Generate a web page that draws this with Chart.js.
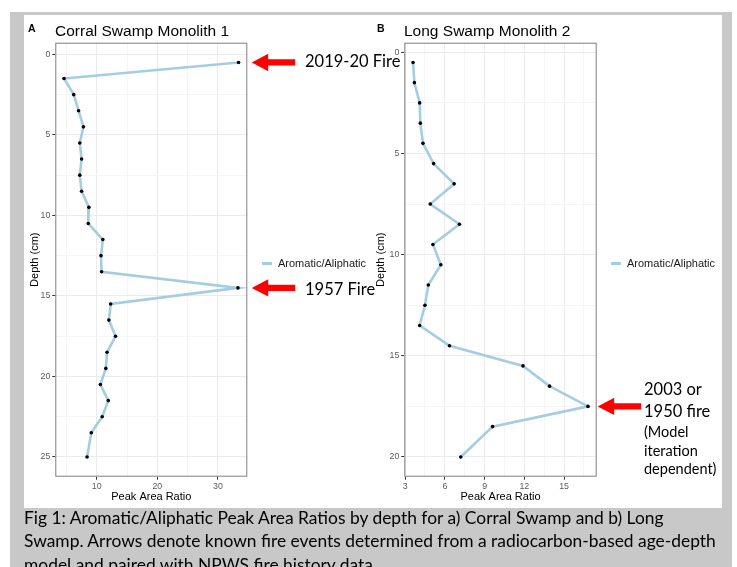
<!DOCTYPE html>
<html>
<head>
<meta charset="utf-8">
<script src="https://cdn.jsdelivr.net/npm/chart.js@4.4.0/dist/chart.umd.min.js"></script>
<style>
  body { margin: 0; background: #fff; }
  #page { position: relative; width: 737px; height: 567px; overflow: hidden; font-family: "Liberation Sans", Arial, sans-serif; }
  #frame { position: absolute; left: 10px; top: 12px; width: 722px; height: 560px; background: #c8c8c8; }
  #inner { position: absolute; left: 24px; top: 15px; width: 698px; height: 493px; background: #fff; }
  canvas { position: absolute; top: 17px; }
  #chartA { left: 24px; }
  #chartB { left: 370px; }
  .tag { position: absolute; top: 22.5px; font-size: 10.5px; font-weight: bold; line-height: 11.7px; }
  .title { position: absolute; top: 22px; font-size: 15.5px; line-height: 17.3px; color: #000; white-space: nowrap; }
  .legend { position: absolute; top: 256.7px; font-size: 11px; line-height: 12.3px; color: #1a1a1a; white-space: nowrap; }
  .legend i { position: absolute; left: -16px; top: 5.4px; width: 10px; height: 2.6px; background: #a3cde3; }
  .note { position: absolute; font-family: Lato, "Open Sans", sans-serif; color: #000; white-space: nowrap; font-size: 16.5px; line-height: 19.8px; }
  .note.small { font-size: 14.5px; line-height: 18.5px; }
  #caption { position: absolute; left: 24px; top: 505.9px; font-family: Lato, "Open Sans", sans-serif; font-size: 17.4px; line-height: 23.4px; color: #000; white-space: nowrap; }
</style>
</head>
<body>
<div id="page">
  <div id="frame"></div>
  <div id="inner"></div>
  <canvas id="chartA" width="346" height="491"></canvas>
  <canvas id="chartB" width="352" height="491"></canvas>

  <div class="tag" style="left:28px">A</div>
  <div class="title" style="left:55px">Corral Swamp Monolith 1</div>
  <div class="tag" style="left:377px">B</div>
  <div class="title" style="left:404px">Long Swamp Monolith 2</div>

  <div class="legend" style="left:278px"><i></i>Aromatic/Aliphatic</div>
  <div class="legend" style="left:627px"><i></i>Aromatic/Aliphatic</div>

  <div class="note" style="left:305px; top:52px">2019-20 Fire</div>
  <div class="note" style="left:305px; top:279.7px">1957 Fire</div>
  <div class="note" style="left:644px; top:380.4px">2003 or</div>
  <div class="note" style="left:644px; top:402px">1950 fire</div>
  <div class="note small" style="left:644px; top:423.4px">(Model<br>iteration<br>dependent)</div>

  <div id="caption">
    Fig 1: Aromatic/Aliphatic Peak Area Ratios by depth for a) Corral Swamp and b) Long<br>
    Swamp. Arrows denote known fire events determined from a radiocarbon-based age-depth<br>
    model and paired with NPWS fire history data.
  </div>
</div>

<script>
// Corral Swamp Monolith 1
const depthA = [0.5, 1.5, 2.5, 3.5, 4.5, 5.5, 6.5, 7.5, 8.5, 9.5, 10.5, 11.5, 12.5, 13.5, 14.5, 15.5, 16.5, 17.5, 18.5, 19.5, 20.5, 21.5, 22.5, 23.5, 25];
const ratioA = [33.4, 4.6, 6.2, 7.0, 7.8, 7.2, 7.5, 7.2, 7.5, 8.7, 8.6, 11.0, 10.7, 10.8, 33.3, 12.3, 12.0, 13.1, 11.7, 11.5, 10.6, 11.9, 10.9, 9.1, 8.4];
const xMajorA = [10, 20, 30];
const xMinorA = [5, 15, 25];
const yMajorA = [0, 5, 10, 15, 20, 25];
const yMinorA = [2.5, 7.5, 12.5, 17.5, 22.5];
const fireDepthsA = [0.5, 14.5];

// Long Swamp Monolith 2
const depthB = [0.5, 1.5, 2.5, 3.5, 4.5, 5.5, 6.5, 7.5, 8.5, 9.5, 10.5, 11.5, 12.5, 13.5, 14.5, 15.5, 16.5, 17.5, 18.5, 20];
const ratioB = [3.6, 3.7, 4.1, 4.15, 4.35, 5.15, 6.7, 4.9, 7.1, 5.1, 5.7, 4.75, 4.5, 4.1, 6.35, 11.9, 13.9, 16.8, 9.6, 7.2];
const xMajorB = [3, 6, 9, 12, 15];
const xMinorB = [4.5, 7.5, 10.5, 13.5, 16.5];
const yMajorB = [0, 5, 10, 15, 20];
const yMinorB = [2.5, 7.5, 12.5, 17.5];
const fireDepthsB = [17.5];

Chart.defaults.font.family = "'Liberation Sans', Arial, sans-serif";

// ggplot style 5% expansion
function expand(values) {
    const lo = Math.min(...values), hi = Math.max(...values);
    const pad = (hi - lo) * 0.05;
    return [lo - pad, hi + pad];
}

// panel border + red arrows next to the fire peaks
const fireArrows = {
    id: 'fireArrows',
    afterDraw(chart, args, opts) {
        const { ctx, chartArea: a, scales } = chart;
        ctx.save();
        ctx.strokeStyle = '#7f7f7f';
        ctx.lineWidth = 1;
        ctx.strokeRect(a.left + 0.5, a.top + 0.5, a.width - 1, a.height - 1);
        ctx.fillStyle = '#ff0000';
        opts.depths.forEach(d => {
            const y = scales.y.getPixelForValue(d);
            const x = a.right + opts.gap;
            ctx.beginPath();
            ctx.moveTo(x, y);
            ctx.lineTo(x + 16.5, y - 8.7);
            ctx.lineTo(x + 16.5, y - 3.1);
            ctx.lineTo(x + 43.5, y - 3.1);
            ctx.lineTo(x + 43.5, y + 3.1);
            ctx.lineTo(x + 16.5, y + 3.1);
            ctx.lineTo(x + 16.5, y + 8.7);
            ctx.closePath();
            ctx.fill();
        });
        ctx.restore();
    }
};

function axis(major, minor, range, size, title, vertical) {
    const all = major.concat(minor).sort((p, q) => p - q);
    return {
        type: 'linear',
        reverse: vertical,
        min: range[0],
        max: range[1],
        afterBuildTicks: s => { s.ticks = all.map(v => ({ value: v })); },
        afterFit: s => { if (vertical) s.width = size; else s.height = size; },
        grid: {
            color: c => major.includes(c.tick.value) ? '#ebebeb' : '#f5f5f5',
            tickColor: c => major.includes(c.tick.value) ? '#333333' : 'rgba(0,0,0,0)',
            tickLength: 3,
            lineWidth: 1
        },
        border: { display: false },
        ticks: {
            autoSkip: false,
            maxRotation: 0,
            padding: 2,
            color: '#5a5a5a',
            font: { size: 8.8 },
            callback: v => major.includes(v) ? String(v) : ''
        },
        title: { display: true, text: title, color: '#000', font: { size: 11 }, padding: { top: 4, bottom: 4 } }
    };
}

function makeChart(id, depths, ratios, xMajor, xMinor, yMajor, yMinor, fires, yWidth, padRight, gap) {
    const ctx = document.getElementById(id).getContext('2d');
    return new Chart(ctx, {
        type: 'scatter',
        data: {
            datasets: [{
                label: 'Aromatic/Aliphatic',
                data: depths.map((d, i) => ({ x: ratios[i], y: d })),
                showLine: true,
                borderColor: '#a3cde3',
                borderWidth: 2.6,
                pointRadius: 1.8,
                pointBackgroundColor: '#000',
                pointBorderWidth: 0,
                tension: 0
            }]
        },
        options: {
            responsive: false,
            animation: false,
            layout: { padding: { left: 0, top: 25.7, right: padRight, bottom: 0 } },
            scales: {
                x: axis(xMajor, xMinor, expand(ratios), 31.3, 'Peak Area Ratio', false),
                y: axis(yMajor, yMinor, expand(depths), yWidth, 'Depth (cm)', true)
            },
            plugins: {
                legend: { display: false },
                tooltip: { enabled: false },
                fireArrows: { depths: fires, gap: gap }
            }
        },
        plugins: [fireArrows]
    });
}

makeChart('chartA', depthA, ratioA, xMajorA, xMinorA, yMajorA, yMinorA, fireDepthsA, 31.3, 122.7, 4.4);
makeChart('chartB', depthB, ratioB, xMajorB, xMinorB, yMajorB, yMinorB, fireDepthsB, 34.3, 125.3, 1);
</script>
</body>
</html>
